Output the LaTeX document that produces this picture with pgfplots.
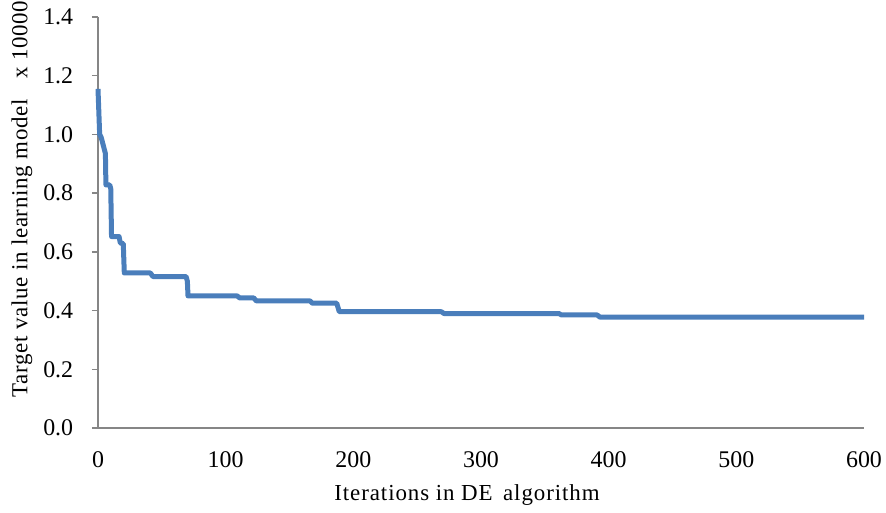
\documentclass[border=0pt]{standalone}
\usepackage{pgfplots}
\pgfplotsset{compat=1.18}
\usepackage{fontspec}
\setmainfont{Liberation Serif}
\definecolor{lineblue}{HTML}{4A7EBB}
\definecolor{axisgray}{HTML}{868686}

\begin{document}
\fontsize{23}{26}\selectfont
\begin{tikzpicture}
\begin{axis}[
    scale only axis,
    width=766bp, height=411bp,
    xmin=0, xmax=600,
    ymin=0, ymax=1.4,
    xtick={0,100,...,600},
    ytick={0,0.2,...,1.4},
    axis x line=bottom,
    axis y line=left,
    axis line style={axisgray, line width=1.3bp, -},
    x tick style={draw=none},
    y tick style={axisgray, line width=1.3bp},
    tick align=outside,
    major tick length=6bp,
    tick label style={font=\fontsize{24}{27}\selectfont},
    yticklabel style={xshift=-11bp, /pgf/number format/.cd, fixed, fixed zerofill, precision=1, assume math mode=true},
    xticklabel style={yshift=-10bp, /pgf/number format/assume math mode=true},
    xlabel={Iterations in DE\, algorithm},
    ylabel={Target value in learning model\hspace{0.9em}x 10000},
    xlabel style={at={(axis description cs:0.4817,-0.163)}, anchor=center,
        font=\fontsize{23}{26}\selectfont\addfontfeatures{LetterSpace=4}},
    ylabel style={at={(axis description cs:-0.0992,0.557)}, anchor=center,
        font=\fontsize{23}{26}\selectfont\addfontfeatures{LetterSpace=3}},
    clip=false,
]
\addplot[lineblue, line width=5bp, line join=round] coordinates {
    (0,1.155) (1.3,1.0) (2.5,0.99) (5.8,0.935) (6.2,0.828)
    (9.2,0.828) (10,0.815) (10.6,0.652) (16.5,0.652) (17.5,0.630)
    (19.8,0.628) (20.6,0.528) (41,0.528) (43,0.516) (69,0.516)
    (70,0.50) (70.5,0.450) (109,0.450) (111,0.443) (122,0.443)
    (124,0.433) (166,0.433) (168,0.425) (187,0.425) (189,0.396)
    (269,0.396) (271,0.390) (361,0.390) (363,0.385) (391,0.385)
    (393,0.378) (600,0.378)
};
\end{axis}
\pgfresetboundingbox
\path (current axis.south west) ++(-98bp,-85bp) coordinate (bbsw);
\path (current axis.north east) ++(22bp,17bp) coordinate (bbne);
\path (bbsw) rectangle (bbne);
\end{tikzpicture}
\end{document}
